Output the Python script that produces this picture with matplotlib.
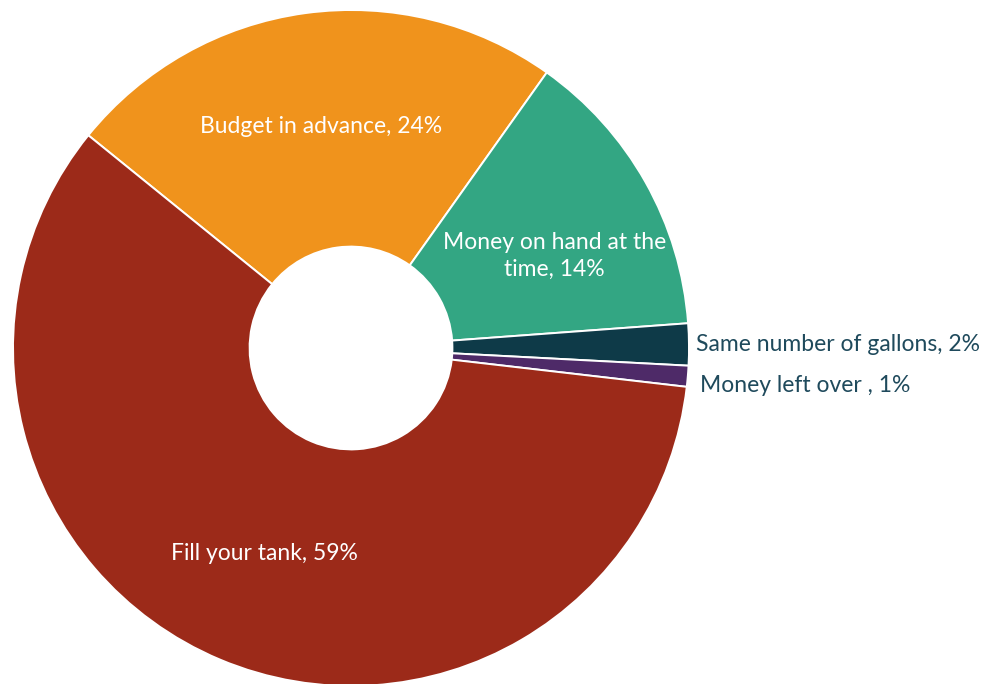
import numpy as np
import matplotlib
matplotlib.use("Agg")
import matplotlib.pyplot as plt

categories = ["Budget in advance", "Money on hand at the\ntime", "Same number of gallons",
              "Money left over ", "Fill your tank"]
shares = [24, 14, 2, 1, 59]
colors = ["#F0931C", "#33A683", "#0E3A48", "#4E2A68", "#9C2A19"]
inside = [True, True, False, False, True]

plt.rcParams["font.family"] = ["Lato", "DejaVu Sans"]

W, H = 996, 684
fig = plt.figure(figsize=(W / 100, H / 100), dpi=100)
ax = fig.add_axes([0, 0, 1, 1])

# pie centre and radius in pixels
cx, cy, R = 351, 348, 338

wedges, _ = ax.pie(shares, colors=colors, startangle=141, counterclock=False,
                   radius=1.0, center=(0, 0), frame=True,
                   wedgeprops=dict(width=0.70, edgecolor="white", linewidth=1.4))
ax.set_xlim(-cx / R, (W - cx) / R)
ax.set_ylim(-(H - cy) / R, cy / R)
ax.set_aspect("auto")
ax.axis("off")

for w, cat, val, ins in zip(wedges, categories, shares, inside):
    mid = np.deg2rad((w.theta1 + w.theta2) / 2)
    label = f"{cat}, {val}%"
    if ins:
        if "\n" in cat:
            mid -= np.deg2rad(5)
        r = 0.66
        ax.text(r * np.cos(mid), r * np.sin(mid), label, ha="center", va="center",
                color="white", fontsize=16.5, linespacing=1.3)
    else:
        r = 1.02
        y = r * np.sin(mid)
        if val == 1:
            y -= 0.025
        ax.text(r * np.cos(mid) + (0.015 if val == 1 else 0), y, label,
                ha="left", va="center", color="#1F4A5C", fontsize=16.5)

fig.savefig("out.png", dpi=100, facecolor="white")
